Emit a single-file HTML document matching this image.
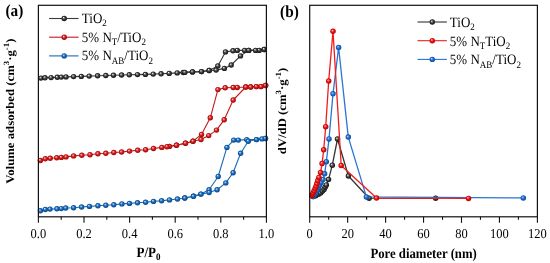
<!DOCTYPE html><html><head><meta charset="utf-8"><style>html,body{margin:0;padding:0;background:#fff;width:550px;height:263px;overflow:hidden}svg{display:block;will-change:transform}text{font-family:"Liberation Serif", serif;text-rendering:geometricPrecision}</style></head><body>
<svg width="550" height="263" viewBox="0 0 550 263">
<defs>
<radialGradient id="gg" cx="0.5" cy="0.5" r="0.5" fx="0.36" fy="0.33"><stop offset="0" stop-color="#ffffff"/><stop offset="0.25" stop-color="#909090"/><stop offset="0.55" stop-color="#3a3a3a"/><stop offset="1" stop-color="#141414"/></radialGradient>
<radialGradient id="gr" cx="0.5" cy="0.5" r="0.5" fx="0.36" fy="0.33"><stop offset="0" stop-color="#ffe8e8"/><stop offset="0.25" stop-color="#f07070"/><stop offset="0.55" stop-color="#d41818"/><stop offset="1" stop-color="#9a0a0a"/></radialGradient>
<radialGradient id="gb" cx="0.5" cy="0.5" r="0.5" fx="0.36" fy="0.33"><stop offset="0" stop-color="#e8f4ff"/><stop offset="0.25" stop-color="#6aa6e0"/><stop offset="0.55" stop-color="#1666b8"/><stop offset="1" stop-color="#0a4888"/></radialGradient>
<radialGradient id="gr2" cx="0.5" cy="0.5" r="0.5" fx="0.36" fy="0.33"><stop offset="0" stop-color="#ffd0d0"/><stop offset="0.25" stop-color="#ff6060"/><stop offset="0.55" stop-color="#f01010"/><stop offset="1" stop-color="#a80606"/></radialGradient>
<radialGradient id="gb2" cx="0.5" cy="0.5" r="0.5" fx="0.36" fy="0.33"><stop offset="0" stop-color="#d0e8ff"/><stop offset="0.25" stop-color="#5c9ae0"/><stop offset="0.55" stop-color="#1f6ad0"/><stop offset="1" stop-color="#0c4c9c"/></radialGradient>
</defs>
<rect width="550" height="263" fill="#fff"/>
<polyline points="40.9,78.1 45,77.8 51.1,77.6 57.3,77.3 61.3,77.1 66,76.9 73.6,76.6 81.3,76.4 89.2,76.1 97.6,75.8 105.8,75.5 113.5,75.2 121.6,75 129.3,74.8 137.5,74.6 145.4,74.4 153.2,74.1 161.1,73.8 169.2,73.4 177.2,72.9 184.8,72.4 192.5,71.9 201.5,71.6 209.2,70.5 216.1,70.1 224.4,68.4 231.2,65 240.5,55.9 248.7,50.4 255.6,50.4 264.2,49.5" fill="none" stroke="#3a3a3a" stroke-width="1.1" stroke-linejoin="round"/>
<polyline points="264.2,49.5 259.2,50.4 248.7,50.4 244.6,50.4 237.3,50.4 233,50.8 225.5,51.9 217.8,65.9 209.2,70.5 201.5,71.6 192.5,71.9 183.2,72.5" fill="none" stroke="#3a3a3a" stroke-width="1.1" stroke-linejoin="round"/>
<polyline points="40.4,160.5 45.3,158.8 50.2,158.3 56.7,157.7 61.3,157.4 66,156.9 73.6,155.9 81.8,155.3 90,154.7 97.9,153.8 105.8,153.3 113.8,152.5 121.6,152 129.5,151.1 137.7,150.3 145.6,149.7 153.5,148.5 161.8,147.4 167,146.7 176.5,145.2 185.5,143.2 193,141.2 201,139.5 208.7,135.6 216.5,130.1 224.2,119.8 233.2,100 245.8,87 250.7,87 256.4,86.6 261,86.6 265.6,85.5" fill="none" stroke="#c81818" stroke-width="1.1" stroke-linejoin="round"/>
<polyline points="265.6,85.5 261,86.6 256.4,86.6 250.7,87 245.8,87 237.3,87.5 233.2,87.5 225.2,87.8 217.9,89.6 210.3,117.8 201.5,134.4 193,141.2 185.5,143.2 176.5,145.2 169.5,146.4" fill="none" stroke="#c81818" stroke-width="1.1" stroke-linejoin="round"/>
<polyline points="40.4,210.8 45.3,209.5 50,209.1 56.9,208.8 61.3,208.6 65.7,208 73.6,207.7 81.6,207 89.5,206.4 97.9,205.8 105.8,205.2 113.8,204.7 121.9,203.9 129.5,203.4 137.5,202.8 145.6,202.3 153.5,201.4 161.6,200.7 169.5,199.9 177.5,199 184.8,198 193.5,196.3 200.9,194.1 209.1,192.5 217.1,189.8 225.8,182.9 233.1,172.7 240.6,153.3 248.3,141.2 256.5,139.6 262,138.9 265.5,138.5" fill="none" stroke="#1a6ab8" stroke-width="1.1" stroke-linejoin="round"/>
<polyline points="265.5,138.5 256.5,139.6 246.7,139.6 238.3,140.1 233.7,140.1 226.9,147.4 218.2,176.5 209.1,189.8 200.9,194.1 193.5,196.3 184.8,198" fill="none" stroke="#1a6ab8" stroke-width="1.1" stroke-linejoin="round"/>
<circle cx="264.2" cy="49.5" r="2.7" fill="url(#gg)"/>
<circle cx="259.2" cy="50.4" r="2.7" fill="url(#gg)"/>
<circle cx="248.7" cy="50.4" r="2.7" fill="url(#gg)"/>
<circle cx="244.6" cy="50.4" r="2.7" fill="url(#gg)"/>
<circle cx="237.3" cy="50.4" r="2.7" fill="url(#gg)"/>
<circle cx="233" cy="50.8" r="2.7" fill="url(#gg)"/>
<circle cx="225.5" cy="51.9" r="2.7" fill="url(#gg)"/>
<circle cx="217.8" cy="65.9" r="2.7" fill="url(#gg)"/>
<circle cx="209.2" cy="70.5" r="2.7" fill="url(#gg)"/>
<circle cx="201.5" cy="71.6" r="2.7" fill="url(#gg)"/>
<circle cx="192.5" cy="71.9" r="2.7" fill="url(#gg)"/>
<circle cx="183.2" cy="72.5" r="2.7" fill="url(#gg)"/>
<circle cx="40.9" cy="78.1" r="2.7" fill="url(#gg)"/>
<circle cx="45" cy="77.8" r="2.7" fill="url(#gg)"/>
<circle cx="51.1" cy="77.6" r="2.7" fill="url(#gg)"/>
<circle cx="57.3" cy="77.3" r="2.7" fill="url(#gg)"/>
<circle cx="61.3" cy="77.1" r="2.7" fill="url(#gg)"/>
<circle cx="66" cy="76.9" r="2.7" fill="url(#gg)"/>
<circle cx="73.6" cy="76.6" r="2.7" fill="url(#gg)"/>
<circle cx="81.3" cy="76.4" r="2.7" fill="url(#gg)"/>
<circle cx="89.2" cy="76.1" r="2.7" fill="url(#gg)"/>
<circle cx="97.6" cy="75.8" r="2.7" fill="url(#gg)"/>
<circle cx="105.8" cy="75.5" r="2.7" fill="url(#gg)"/>
<circle cx="113.5" cy="75.2" r="2.7" fill="url(#gg)"/>
<circle cx="121.6" cy="75" r="2.7" fill="url(#gg)"/>
<circle cx="129.3" cy="74.8" r="2.7" fill="url(#gg)"/>
<circle cx="137.5" cy="74.6" r="2.7" fill="url(#gg)"/>
<circle cx="145.4" cy="74.4" r="2.7" fill="url(#gg)"/>
<circle cx="153.2" cy="74.1" r="2.7" fill="url(#gg)"/>
<circle cx="161.1" cy="73.8" r="2.7" fill="url(#gg)"/>
<circle cx="169.2" cy="73.4" r="2.7" fill="url(#gg)"/>
<circle cx="177.2" cy="72.9" r="2.7" fill="url(#gg)"/>
<circle cx="184.8" cy="72.4" r="2.7" fill="url(#gg)"/>
<circle cx="192.5" cy="71.9" r="2.7" fill="url(#gg)"/>
<circle cx="201.5" cy="71.6" r="2.7" fill="url(#gg)"/>
<circle cx="209.2" cy="70.5" r="2.7" fill="url(#gg)"/>
<circle cx="216.1" cy="70.1" r="2.7" fill="url(#gg)"/>
<circle cx="224.4" cy="68.4" r="2.7" fill="url(#gg)"/>
<circle cx="231.2" cy="65" r="2.7" fill="url(#gg)"/>
<circle cx="240.5" cy="55.9" r="2.7" fill="url(#gg)"/>
<circle cx="248.7" cy="50.4" r="2.7" fill="url(#gg)"/>
<circle cx="255.6" cy="50.4" r="2.7" fill="url(#gg)"/>
<circle cx="264.2" cy="49.5" r="2.7" fill="url(#gg)"/>
<circle cx="265.6" cy="85.5" r="2.7" fill="url(#gr)"/>
<circle cx="261" cy="86.6" r="2.7" fill="url(#gr)"/>
<circle cx="256.4" cy="86.6" r="2.7" fill="url(#gr)"/>
<circle cx="250.7" cy="87" r="2.7" fill="url(#gr)"/>
<circle cx="245.8" cy="87" r="2.7" fill="url(#gr)"/>
<circle cx="237.3" cy="87.5" r="2.7" fill="url(#gr)"/>
<circle cx="233.2" cy="87.5" r="2.7" fill="url(#gr)"/>
<circle cx="225.2" cy="87.8" r="2.7" fill="url(#gr)"/>
<circle cx="217.9" cy="89.6" r="2.7" fill="url(#gr)"/>
<circle cx="210.3" cy="117.8" r="2.7" fill="url(#gr)"/>
<circle cx="201.5" cy="134.4" r="2.7" fill="url(#gr)"/>
<circle cx="193" cy="141.2" r="2.7" fill="url(#gr)"/>
<circle cx="185.5" cy="143.2" r="2.7" fill="url(#gr)"/>
<circle cx="176.5" cy="145.2" r="2.7" fill="url(#gr)"/>
<circle cx="169.5" cy="146.4" r="2.7" fill="url(#gr)"/>
<circle cx="40.4" cy="160.5" r="2.7" fill="url(#gr)"/>
<circle cx="45.3" cy="158.8" r="2.7" fill="url(#gr)"/>
<circle cx="50.2" cy="158.3" r="2.7" fill="url(#gr)"/>
<circle cx="56.7" cy="157.7" r="2.7" fill="url(#gr)"/>
<circle cx="61.3" cy="157.4" r="2.7" fill="url(#gr)"/>
<circle cx="66" cy="156.9" r="2.7" fill="url(#gr)"/>
<circle cx="73.6" cy="155.9" r="2.7" fill="url(#gr)"/>
<circle cx="81.8" cy="155.3" r="2.7" fill="url(#gr)"/>
<circle cx="90" cy="154.7" r="2.7" fill="url(#gr)"/>
<circle cx="97.9" cy="153.8" r="2.7" fill="url(#gr)"/>
<circle cx="105.8" cy="153.3" r="2.7" fill="url(#gr)"/>
<circle cx="113.8" cy="152.5" r="2.7" fill="url(#gr)"/>
<circle cx="121.6" cy="152" r="2.7" fill="url(#gr)"/>
<circle cx="129.5" cy="151.1" r="2.7" fill="url(#gr)"/>
<circle cx="137.7" cy="150.3" r="2.7" fill="url(#gr)"/>
<circle cx="145.6" cy="149.7" r="2.7" fill="url(#gr)"/>
<circle cx="153.5" cy="148.5" r="2.7" fill="url(#gr)"/>
<circle cx="161.8" cy="147.4" r="2.7" fill="url(#gr)"/>
<circle cx="167" cy="146.7" r="2.7" fill="url(#gr)"/>
<circle cx="176.5" cy="145.2" r="2.7" fill="url(#gr)"/>
<circle cx="185.5" cy="143.2" r="2.7" fill="url(#gr)"/>
<circle cx="193" cy="141.2" r="2.7" fill="url(#gr)"/>
<circle cx="201" cy="139.5" r="2.7" fill="url(#gr)"/>
<circle cx="208.7" cy="135.6" r="2.7" fill="url(#gr)"/>
<circle cx="216.5" cy="130.1" r="2.7" fill="url(#gr)"/>
<circle cx="224.2" cy="119.8" r="2.7" fill="url(#gr)"/>
<circle cx="233.2" cy="100" r="2.7" fill="url(#gr)"/>
<circle cx="245.8" cy="87" r="2.7" fill="url(#gr)"/>
<circle cx="250.7" cy="87" r="2.7" fill="url(#gr)"/>
<circle cx="256.4" cy="86.6" r="2.7" fill="url(#gr)"/>
<circle cx="261" cy="86.6" r="2.7" fill="url(#gr)"/>
<circle cx="265.6" cy="85.5" r="2.7" fill="url(#gr)"/>
<circle cx="265.5" cy="138.5" r="2.7" fill="url(#gb)"/>
<circle cx="256.5" cy="139.6" r="2.7" fill="url(#gb)"/>
<circle cx="246.7" cy="139.6" r="2.7" fill="url(#gb)"/>
<circle cx="238.3" cy="140.1" r="2.7" fill="url(#gb)"/>
<circle cx="233.7" cy="140.1" r="2.7" fill="url(#gb)"/>
<circle cx="226.9" cy="147.4" r="2.7" fill="url(#gb)"/>
<circle cx="218.2" cy="176.5" r="2.7" fill="url(#gb)"/>
<circle cx="209.1" cy="189.8" r="2.7" fill="url(#gb)"/>
<circle cx="200.9" cy="194.1" r="2.7" fill="url(#gb)"/>
<circle cx="193.5" cy="196.3" r="2.7" fill="url(#gb)"/>
<circle cx="184.8" cy="198" r="2.7" fill="url(#gb)"/>
<circle cx="40.4" cy="210.8" r="2.7" fill="url(#gb)"/>
<circle cx="45.3" cy="209.5" r="2.7" fill="url(#gb)"/>
<circle cx="50" cy="209.1" r="2.7" fill="url(#gb)"/>
<circle cx="56.9" cy="208.8" r="2.7" fill="url(#gb)"/>
<circle cx="61.3" cy="208.6" r="2.7" fill="url(#gb)"/>
<circle cx="65.7" cy="208" r="2.7" fill="url(#gb)"/>
<circle cx="73.6" cy="207.7" r="2.7" fill="url(#gb)"/>
<circle cx="81.6" cy="207" r="2.7" fill="url(#gb)"/>
<circle cx="89.5" cy="206.4" r="2.7" fill="url(#gb)"/>
<circle cx="97.9" cy="205.8" r="2.7" fill="url(#gb)"/>
<circle cx="105.8" cy="205.2" r="2.7" fill="url(#gb)"/>
<circle cx="113.8" cy="204.7" r="2.7" fill="url(#gb)"/>
<circle cx="121.9" cy="203.9" r="2.7" fill="url(#gb)"/>
<circle cx="129.5" cy="203.4" r="2.7" fill="url(#gb)"/>
<circle cx="137.5" cy="202.8" r="2.7" fill="url(#gb)"/>
<circle cx="145.6" cy="202.3" r="2.7" fill="url(#gb)"/>
<circle cx="153.5" cy="201.4" r="2.7" fill="url(#gb)"/>
<circle cx="161.6" cy="200.7" r="2.7" fill="url(#gb)"/>
<circle cx="169.5" cy="199.9" r="2.7" fill="url(#gb)"/>
<circle cx="177.5" cy="199" r="2.7" fill="url(#gb)"/>
<circle cx="184.8" cy="198" r="2.7" fill="url(#gb)"/>
<circle cx="193.5" cy="196.3" r="2.7" fill="url(#gb)"/>
<circle cx="200.9" cy="194.1" r="2.7" fill="url(#gb)"/>
<circle cx="209.1" cy="192.5" r="2.7" fill="url(#gb)"/>
<circle cx="217.1" cy="189.8" r="2.7" fill="url(#gb)"/>
<circle cx="225.8" cy="182.9" r="2.7" fill="url(#gb)"/>
<circle cx="233.1" cy="172.7" r="2.7" fill="url(#gb)"/>
<circle cx="240.6" cy="153.3" r="2.7" fill="url(#gb)"/>
<circle cx="248.3" cy="141.2" r="2.7" fill="url(#gb)"/>
<circle cx="256.5" cy="139.6" r="2.7" fill="url(#gb)"/>
<circle cx="262" cy="138.9" r="2.7" fill="url(#gb)"/>
<circle cx="265.5" cy="138.5" r="2.7" fill="url(#gb)"/>
<polyline points="313.2,196.6 315.8,195.7 318.5,194.3 320.6,193 322.3,191.2 324,189.4 325.1,187.2 326.3,184.9 328.5,179.6 332.3,165.2 337.5,139 348.4,176 369.1,198.2 435.7,198.3" fill="none" stroke="#333" stroke-width="1.3" stroke-linejoin="round"/>
<circle cx="313.2" cy="196.6" r="2.75" fill="url(#gg)"/>
<circle cx="315.8" cy="195.7" r="2.75" fill="url(#gg)"/>
<circle cx="318.5" cy="194.3" r="2.75" fill="url(#gg)"/>
<circle cx="320.6" cy="193" r="2.75" fill="url(#gg)"/>
<circle cx="322.3" cy="191.2" r="2.75" fill="url(#gg)"/>
<circle cx="324" cy="189.4" r="2.75" fill="url(#gg)"/>
<circle cx="325.1" cy="187.2" r="2.75" fill="url(#gg)"/>
<circle cx="326.3" cy="184.9" r="2.75" fill="url(#gg)"/>
<circle cx="328.5" cy="179.6" r="2.75" fill="url(#gg)"/>
<circle cx="332.3" cy="165.2" r="2.75" fill="url(#gg)"/>
<circle cx="337.5" cy="139" r="2.75" fill="url(#gg)"/>
<circle cx="348.4" cy="176" r="2.75" fill="url(#gg)"/>
<circle cx="369.1" cy="198.2" r="2.75" fill="url(#gg)"/>
<circle cx="435.7" cy="198.3" r="2.75" fill="url(#gg)"/>
<polyline points="313,196.4 314,195.4 315.1,194.1 316.2,192.1 317.3,189.9 318.5,187.6 319.7,185.1 321.1,182.4 323,179.6 324.6,173.8 326.3,161.8 329,138.9 333,93.8 338.6,47.5 348.3,137.1 366.4,196.9 523.3,197.9" fill="none" stroke="#2a74d2" stroke-width="1.3" stroke-linejoin="round"/>
<circle cx="313" cy="196.4" r="2.75" fill="url(#gb2)"/>
<circle cx="314" cy="195.4" r="2.75" fill="url(#gb2)"/>
<circle cx="315.1" cy="194.1" r="2.75" fill="url(#gb2)"/>
<circle cx="316.2" cy="192.1" r="2.75" fill="url(#gb2)"/>
<circle cx="317.3" cy="189.9" r="2.75" fill="url(#gb2)"/>
<circle cx="318.5" cy="187.6" r="2.75" fill="url(#gb2)"/>
<circle cx="319.7" cy="185.1" r="2.75" fill="url(#gb2)"/>
<circle cx="321.1" cy="182.4" r="2.75" fill="url(#gb2)"/>
<circle cx="323" cy="179.6" r="2.75" fill="url(#gb2)"/>
<circle cx="324.6" cy="173.8" r="2.75" fill="url(#gb2)"/>
<circle cx="326.3" cy="161.8" r="2.75" fill="url(#gb2)"/>
<circle cx="329" cy="138.9" r="2.75" fill="url(#gb2)"/>
<circle cx="333" cy="93.8" r="2.75" fill="url(#gb2)"/>
<circle cx="338.6" cy="47.5" r="2.75" fill="url(#gb2)"/>
<circle cx="348.3" cy="137.1" r="2.75" fill="url(#gb2)"/>
<circle cx="366.4" cy="196.9" r="2.75" fill="url(#gb2)"/>
<circle cx="523.3" cy="197.9" r="2.75" fill="url(#gb2)"/>
<polyline points="311.8,195.7 312.4,194.4 313.2,192.8 314.2,190.8 315.2,188.6 316.1,186.3 316.9,183.6 317.8,180.6 318.9,177.4 320.5,172.6 322.1,163.6 323.7,149.8 325.7,126.7 328.7,81 333,31.3 341.2,165.5 376.5,198.1 468.5,198.4" fill="none" stroke="#f01c1c" stroke-width="1.3" stroke-linejoin="round"/>
<circle cx="311.8" cy="195.7" r="2.75" fill="url(#gr2)"/>
<circle cx="312.4" cy="194.4" r="2.75" fill="url(#gr2)"/>
<circle cx="313.2" cy="192.8" r="2.75" fill="url(#gr2)"/>
<circle cx="314.2" cy="190.8" r="2.75" fill="url(#gr2)"/>
<circle cx="315.2" cy="188.6" r="2.75" fill="url(#gr2)"/>
<circle cx="316.1" cy="186.3" r="2.75" fill="url(#gr2)"/>
<circle cx="316.9" cy="183.6" r="2.75" fill="url(#gr2)"/>
<circle cx="317.8" cy="180.6" r="2.75" fill="url(#gr2)"/>
<circle cx="318.9" cy="177.4" r="2.75" fill="url(#gr2)"/>
<circle cx="320.5" cy="172.6" r="2.75" fill="url(#gr2)"/>
<circle cx="322.1" cy="163.6" r="2.75" fill="url(#gr2)"/>
<circle cx="323.7" cy="149.8" r="2.75" fill="url(#gr2)"/>
<circle cx="325.7" cy="126.7" r="2.75" fill="url(#gr2)"/>
<circle cx="328.7" cy="81" r="2.75" fill="url(#gr2)"/>
<circle cx="333" cy="31.3" r="2.75" fill="url(#gr2)"/>
<circle cx="341.2" cy="165.5" r="2.75" fill="url(#gr2)"/>
<circle cx="376.5" cy="198.1" r="2.75" fill="url(#gr2)"/>
<circle cx="468.5" cy="198.4" r="2.75" fill="url(#gr2)"/>
<rect x="38.4" y="5.3" width="228" height="211.5" fill="none" stroke="#111" stroke-width="1.2"/>
<line x1="38.4" y1="216.8" x2="38.4" y2="222.8" stroke="#111" stroke-width="1.1"/>
<line x1="84" y1="216.8" x2="84" y2="222.8" stroke="#111" stroke-width="1.1"/>
<line x1="129.6" y1="216.8" x2="129.6" y2="222.8" stroke="#111" stroke-width="1.1"/>
<line x1="175.2" y1="216.8" x2="175.2" y2="222.8" stroke="#111" stroke-width="1.1"/>
<line x1="220.8" y1="216.8" x2="220.8" y2="222.8" stroke="#111" stroke-width="1.1"/>
<line x1="266.4" y1="216.8" x2="266.4" y2="222.8" stroke="#111" stroke-width="1.1"/>
<line x1="61.2" y1="216.8" x2="61.2" y2="219.8" stroke="#111" stroke-width="1.1"/>
<line x1="106.8" y1="216.8" x2="106.8" y2="219.8" stroke="#111" stroke-width="1.1"/>
<line x1="152.4" y1="216.8" x2="152.4" y2="219.8" stroke="#111" stroke-width="1.1"/>
<line x1="198" y1="216.8" x2="198" y2="219.8" stroke="#111" stroke-width="1.1"/>
<line x1="243.6" y1="216.8" x2="243.6" y2="219.8" stroke="#111" stroke-width="1.1"/>
<rect x="309.7" y="5.3" width="227.7" height="211.5" fill="none" stroke="#111" stroke-width="1.2"/>
<line x1="309.7" y1="216.8" x2="309.7" y2="222.8" stroke="#111" stroke-width="1.1"/>
<line x1="347.65" y1="216.8" x2="347.65" y2="222.8" stroke="#111" stroke-width="1.1"/>
<line x1="385.6" y1="216.8" x2="385.6" y2="222.8" stroke="#111" stroke-width="1.1"/>
<line x1="423.55" y1="216.8" x2="423.55" y2="222.8" stroke="#111" stroke-width="1.1"/>
<line x1="461.5" y1="216.8" x2="461.5" y2="222.8" stroke="#111" stroke-width="1.1"/>
<line x1="499.45" y1="216.8" x2="499.45" y2="222.8" stroke="#111" stroke-width="1.1"/>
<line x1="537.4" y1="216.8" x2="537.4" y2="222.8" stroke="#111" stroke-width="1.1"/>
<line x1="328.68" y1="216.8" x2="328.68" y2="219.8" stroke="#111" stroke-width="1.1"/>
<line x1="366.62" y1="216.8" x2="366.62" y2="219.8" stroke="#111" stroke-width="1.1"/>
<line x1="404.57" y1="216.8" x2="404.57" y2="219.8" stroke="#111" stroke-width="1.1"/>
<line x1="442.52" y1="216.8" x2="442.52" y2="219.8" stroke="#111" stroke-width="1.1"/>
<line x1="480.47" y1="216.8" x2="480.47" y2="219.8" stroke="#111" stroke-width="1.1"/>
<line x1="518.42" y1="216.8" x2="518.42" y2="219.8" stroke="#111" stroke-width="1.1"/>
<text transform="translate(38.4,238) scale(1,1.08)" font-size="12.5" text-anchor="middle" fill="#000">0.0</text>
<text transform="translate(84,238) scale(1,1.08)" font-size="12.5" text-anchor="middle" fill="#000">0.2</text>
<text transform="translate(129.6,238) scale(1,1.08)" font-size="12.5" text-anchor="middle" fill="#000">0.4</text>
<text transform="translate(175.2,238) scale(1,1.08)" font-size="12.5" text-anchor="middle" fill="#000">0.6</text>
<text transform="translate(220.8,238) scale(1,1.08)" font-size="12.5" text-anchor="middle" fill="#000">0.8</text>
<text transform="translate(266.4,238) scale(1,1.08)" font-size="12.5" text-anchor="middle" fill="#000">1.0</text>
<text transform="translate(309.7,238) scale(1,1.08)" font-size="12.5" text-anchor="middle" fill="#000">0</text>
<text transform="translate(347.65,238) scale(1,1.08)" font-size="12.5" text-anchor="middle" fill="#000">20</text>
<text transform="translate(385.6,238) scale(1,1.08)" font-size="12.5" text-anchor="middle" fill="#000">40</text>
<text transform="translate(423.55,238) scale(1,1.08)" font-size="12.5" text-anchor="middle" fill="#000">60</text>
<text transform="translate(461.5,238) scale(1,1.08)" font-size="12.5" text-anchor="middle" fill="#000">80</text>
<text transform="translate(499.45,238) scale(1,1.08)" font-size="12.5" text-anchor="middle" fill="#000">100</text>
<text transform="translate(537.4,238) scale(1,1.08)" font-size="12.5" text-anchor="middle" fill="#000">120</text>
<text transform="translate(148.5,256.7) scale(1,1.1)" font-size="13" font-weight="bold" text-anchor="middle" fill="#000">P/P<tspan font-size="9" dy="2.6">0</tspan></text>
<text transform="translate(423.6,257.8) scale(1,1.1)" font-size="12.75" font-weight="bold" text-anchor="middle" fill="#000">Pore diameter (nm)</text>
<text transform="translate(14.4,111.2) rotate(-90) scale(1.1,1)" font-size="11.6" font-weight="bold" text-anchor="middle" fill="#000">Volume adsorbed (cm<tspan font-size="8" dy="-5">3</tspan><tspan dy="5">&#183;g</tspan><tspan font-size="8" dy="-5">-1</tspan><tspan dy="5">)</tspan></text>
<text transform="translate(285.8,111) rotate(-90) scale(1.1,1)" font-size="11.6" font-weight="bold" text-anchor="middle" fill="#000">dV/dD (cm<tspan font-size="8" dy="-5">3</tspan><tspan dy="5">&#183;g</tspan><tspan font-size="8" dy="-5">-1</tspan><tspan dy="5">)</tspan></text>
<text transform="translate(5.4,16) scale(1,1.1)" font-size="15.3" font-weight="bold" fill="#000">(a)</text>
<text transform="translate(280.1,17.4) scale(1,1.1)" font-size="15.3" font-weight="bold" fill="#000">(b)</text>
<line x1="49.1" y1="18.5" x2="78.6" y2="18.5" stroke="#3a3a3a" stroke-width="1.1"/>
<circle cx="64.2" cy="18.5" r="2.7" fill="url(#gg)"/>
<text transform="translate(81.8,22.9) scale(1,1.1)" font-size="13" fill="#000">TiO<tspan font-size="9" dy="3">2</tspan></text>
<line x1="49.1" y1="37.2" x2="78.6" y2="37.2" stroke="#c81818" stroke-width="1.1"/>
<circle cx="64.2" cy="37.2" r="2.7" fill="url(#gr)"/>
<text transform="translate(81.8,41.6) scale(1,1.1)" font-size="13" fill="#000">5% N<tspan font-size="9" dy="3">T</tspan><tspan dy="-3">/TiO</tspan><tspan font-size="9" dy="3">2</tspan></text>
<line x1="49.1" y1="55.9" x2="78.6" y2="55.9" stroke="#1a6ab8" stroke-width="1.1"/>
<circle cx="64.2" cy="55.9" r="2.7" fill="url(#gb)"/>
<text transform="translate(81.8,60.3) scale(1,1.1)" font-size="13" fill="#000">5% N<tspan font-size="9" dy="3">AB</tspan><tspan dy="-3">/TiO</tspan><tspan font-size="9" dy="3">2</tspan></text>
<line x1="417.5" y1="22" x2="446.9" y2="22" stroke="#333" stroke-width="1.1"/>
<circle cx="432.3" cy="22" r="2.7" fill="url(#gg)"/>
<text transform="translate(449.8,27) scale(1,1.1)" font-size="13" fill="#000">TiO<tspan font-size="9" dy="3">2</tspan></text>
<line x1="417.5" y1="40.7" x2="446.9" y2="40.7" stroke="#f01c1c" stroke-width="1.1"/>
<circle cx="432.3" cy="40.7" r="2.7" fill="url(#gr2)"/>
<text transform="translate(449.8,45.7) scale(1,1.1)" font-size="13" fill="#000">5% N<tspan font-size="9" dy="3">T</tspan><tspan dy="-3">TiO</tspan><tspan font-size="9" dy="3">2</tspan></text>
<line x1="417.5" y1="59.4" x2="446.9" y2="59.4" stroke="#2a74d2" stroke-width="1.1"/>
<circle cx="432.3" cy="59.4" r="2.7" fill="url(#gb2)"/>
<text transform="translate(449.8,64.4) scale(1,1.1)" font-size="13" fill="#000">5% N<tspan font-size="9" dy="3">AB</tspan><tspan dy="-3">/TiO</tspan><tspan font-size="9" dy="3">2</tspan></text>
</svg></body></html>
